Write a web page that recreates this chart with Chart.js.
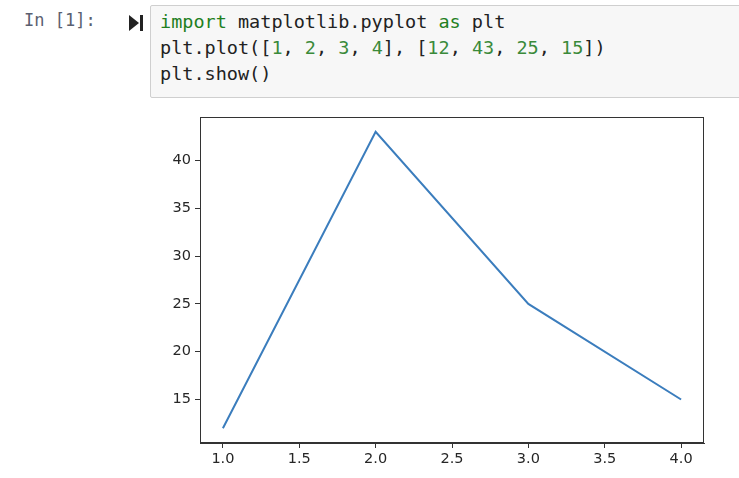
<!DOCTYPE html>
<html>
<head>
<meta charset="utf-8">
<script src="https://cdn.jsdelivr.net/npm/chart.js@4/dist/chart.umd.min.js"></script>
<style>
  html, body { margin: 0; padding: 0; background: #fff; width: 739px; height: 478px; overflow: hidden; position: relative; }
  .prompt { position: absolute; left: 24px; top: 10px; font: 17px "DejaVu Sans Mono", monospace; color: #5a6070; }
  .run { position: absolute; left: 129px; top: 15px; width: 16px; height: 16px; }
  .run .tri { position: absolute; left: 0; top: 0; width: 0; height: 0; border-top: 8px solid transparent; border-bottom: 8px solid transparent; border-left: 10px solid #222; }
  .run .bar { position: absolute; left: 11px; top: 0; width: 3px; height: 16px; background: #222; }
  .cell { position: absolute; left: 150px; top: 5px; width: 600px; height: 91px; background: #f7f7f7; border: 1px solid #cfcfcf; border-radius: 2px; }
  .code { position: absolute; left: 160px; top: 9px; margin: 0; font: 18.5px/26px "DejaVu Sans Mono", monospace; color: #222; white-space: pre; }
  .kw { color: #1f801f; }
  .num { color: #3a8a3a; }
  #wrap { position: absolute; left: 150px; top: 110px; width: 570px; height: 368px; }
</style>
</head>
<body>
<div class="prompt">In [1]:</div>
<div class="run"><div class="tri"></div><div class="bar"></div></div>
<div class="cell"></div>
<pre class="code"><span class="kw">import</span> matplotlib.pyplot <span class="kw">as</span> plt
plt.plot([<span class="num">1</span>, <span class="num">2</span>, <span class="num">3</span>, <span class="num">4</span>], [<span class="num">12</span>, <span class="num">43</span>, <span class="num">25</span>, <span class="num">15</span>])
plt.show()</pre>
<div id="wrap"><canvas id="chart"></canvas></div>
<script>
// data from the plt.plot call
const xValues = [1, 2, 3, 4];
const yValues = [12, 43, 25, 15];
const xTicks = [1.0, 1.5, 2.0, 2.5, 3.0, 3.5, 4.0];
const yTicks = [15, 20, 25, 30, 35, 40];

const points = xValues.map((x, i) => ({ x: x, y: yValues[i] }));

// axes frame on all four sides, like matplotlib
const frame = {
    id: 'frame',
    afterDraw(chart) {
        const a = chart.chartArea;
        const ctx = chart.ctx;
        ctx.save();
        ctx.strokeStyle = '#333';
        ctx.lineWidth = 1;
        ctx.strokeRect(Math.round(a.left) + 0.5, Math.round(a.top) + 0.5, Math.round(a.right - a.left) - 1, Math.round(a.bottom - a.top) - 1);
        ctx.restore();
    }
};

const tickFont = { family: 'DejaVu Sans', size: 14.5 };

new Chart(document.getElementById('chart'), {
    type: 'line',
    data: {
        datasets: [{
            data: points,
            borderColor: '#3b7dbd',
            borderWidth: 2,
            pointRadius: 0,
            tension: 0,
            fill: false
        }]
    },
    options: {
        responsive: true,
        maintainAspectRatio: false,
        animation: false,
        layout: { padding: { top: 7, right: 16, left: 0, bottom: 0 } },
        plugins: { legend: { display: false }, tooltip: { enabled: false } },
        scales: {
            x: {
                type: 'linear',
                min: 0.85,
                max: 4.15,
                afterBuildTicks: axis => { axis.ticks = xTicks.map(v => ({ value: v })); },
                afterFit: axis => { axis.height = 35; axis.paddingLeft = 0; axis.paddingRight = 0; },
                grid: { drawOnChartArea: false, drawTicks: true, tickLength: 5, color: '#333' },
                border: { display: true, color: '#333' },
                ticks: { color: '#262626', font: tickFont, padding: 3, maxRotation: 0, callback: v => v.toFixed(1) }
            },
            y: {
                type: 'linear',
                min: 10.45,
                max: 44.55,
                afterBuildTicks: axis => { axis.ticks = yTicks.map(v => ({ value: v })); },
                afterFit: axis => { axis.width = 50; axis.paddingTop = 0; axis.paddingBottom = 0; },
                grid: { drawOnChartArea: false, drawTicks: true, tickLength: 5, color: '#333' },
                border: { display: true, color: '#333' },
                ticks: { color: '#262626', font: tickFont, padding: 4 }
            }
        }
    },
    plugins: [frame]
});
</script>
</body>
</html>
